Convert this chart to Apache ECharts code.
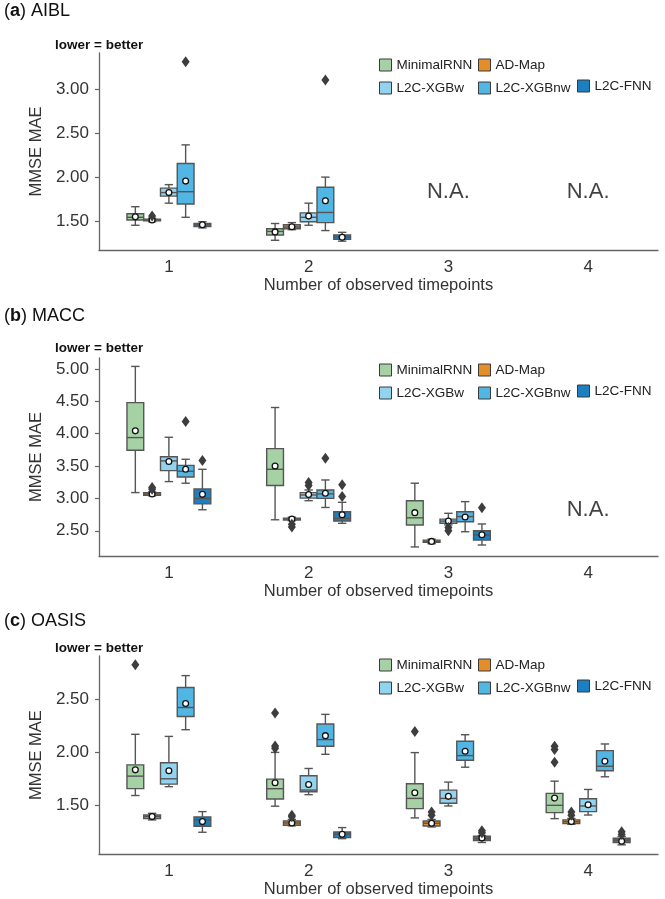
<!DOCTYPE html>
<html><head><meta charset="utf-8">
<script src="https://cdn.jsdelivr.net/npm/echarts@6/dist/echarts.min.js"></script>
<style>html,body{margin:0;padding:0;background:#fff}#c{width:665px;height:899px}</style>
</head><body><div id="c"></div>
<script>
// ---------- data ----------
const categories = ['1', '2', '3', '4'];
const methods = ['MinimalRNN', 'AD-Map', 'L2C-XGBw', 'L2C-XGBnw', 'L2C-FNN'];
// each stat: [min whisker, Q1, median, Q3, max whisker, mean]; null = not available
const aiblMinimalRNN = [[1.46,1.52,1.55,1.59,1.67,1.555],[1.29,1.35,1.39,1.42,1.48,1.385],null,null];
const aiblADMap      = [[1.50,1.51,1.52,1.53,1.54,1.52],[1.41,1.42,1.44,1.465,1.49,1.443],null,null];
const aiblXGBw       = [[1.71,1.79,1.83,1.88,1.92,1.83],[1.46,1.50,1.55,1.60,1.71,1.564],null,null];
const aiblXGBnw      = [[1.55,1.70,1.84,2.16,2.37,1.96],[1.40,1.49,1.605,1.89,2.005,1.737],null,null];
const aiblFNN        = [[1.43,1.445,1.465,1.48,1.50,1.465],[1.28,1.30,1.325,1.35,1.38,1.325],null,null];
// outliers: [category index, method index, value]
const aiblOutliers = [[0,1,1.565],[0,3,3.31],[1,3,3.105]];
const aiblNA = [[2,1.84],[3,1.84]];
const aiblTicks = [1.5,2.0,2.5,3.0];

const maccMinimalRNN = [[3.09,3.745,3.94,4.48,5.04,4.044],[2.67,3.20,3.45,3.77,4.405,3.50],[2.25,2.59,2.70,2.965,3.235,2.78],null];
const maccADMap      = [[3.04,3.05,3.07,3.09,3.10,3.07],[2.655,2.665,2.68,2.695,2.71,2.68],[2.30,2.32,2.335,2.355,2.37,2.336],null];
const maccXGBw       = [[3.26,3.43,3.58,3.645,3.945,3.57],[2.965,3.005,3.053,3.09,3.13,3.06],[2.59,2.615,2.65,2.68,2.77,2.65],null];
const maccXGBnw      = [[3.235,3.33,3.42,3.51,3.605,3.45],[2.86,3.00,3.07,3.13,3.285,3.08],[2.485,2.64,2.72,2.795,2.95,2.712],null];
const maccFNN        = [[2.825,2.915,3.00,3.145,3.45,3.063],[2.615,2.65,2.69,2.795,2.94,2.748],[2.28,2.355,2.435,2.50,2.605,2.438],null];
const maccOutliers = [[0,1,3.14],[0,1,3.17],[0,3,4.19],[0,4,3.585],[1,1,2.60],[1,1,2.56],[1,2,3.20],[1,2,3.245],[1,3,3.62],[1,4,3.21],[1,4,3.03],[2,2,2.55],[2,2,2.50],[2,4,2.855]];
const maccNA = [[3,2.82]];
const maccTicks = [2.5,3.0,3.5,4.0,4.5,5.0];

const oasisMinimalRNN = [[1.595,1.66,1.777,1.883,2.17,1.836],[1.495,1.562,1.659,1.749,2.00,1.715],[1.385,1.472,1.568,1.705,1.998,1.621],[1.378,1.434,1.503,1.615,1.73,1.571]];
const oasisADMap      = [[1.366,1.378,1.397,1.412,1.428,1.397],[1.31,1.316,1.337,1.356,1.37,1.337],[1.30,1.309,1.335,1.356,1.37,1.335],[1.325,1.332,1.35,1.366,1.38,1.35]];
const oasisXGBw       = [[1.678,1.702,1.752,1.902,2.15,1.827],[1.603,1.631,1.646,1.78,1.849,1.699],[1.497,1.522,1.568,1.646,1.721,1.587],[1.412,1.444,1.497,1.565,1.652,1.509]];
const oasisXGBnw      = [[2.213,2.337,2.421,2.609,2.721,2.459],[1.982,2.057,2.12,2.266,2.357,2.157],[1.861,1.926,1.97,2.104,2.166,2.01],[1.771,1.827,1.87,2.017,2.079,1.917]];
const oasisFNN        = [[1.25,1.307,1.366,1.394,1.444,1.35],[1.19,1.20,1.232,1.253,1.294,1.232],[1.154,1.173,1.192,1.213,1.22,1.197],[1.132,1.154,1.176,1.194,1.21,1.166]];
const oasisOutliers = [[0,0,2.823],[1,0,2.369],[1,0,2.06],[1,0,2.04],[2,0,2.197],[3,0,2.057],[3,0,2.026],[3,0,1.908],[1,1,1.41],[1,1,1.395],[2,1,1.44],[2,1,1.41],[3,1,1.44],[3,1,1.41],[2,4,1.265],[2,4,1.245],[3,4,1.255],[3,4,1.23]];
const oasisNA = [];
const oasisTicks = [1.5,2.0,2.5];

// ---------- style / layout ----------
const colors = ['#a5d1a5', '#e48e2a', '#92d3f0', '#52b6e4', '#1c7fc2'];
const EDGE = '#555555';
const OUT = '#3d3d3d';
const OFFSET = 0.12;   // fraction of band between neighbouring boxes
const BOXW = 0.12;     // box width as fraction of band
const FONT = 'Liberation Sans, Arial, sans-serif';

const panels = [
  {letter:'a', name:'AIBL', boxes:[aiblMinimalRNN,aiblADMap,aiblXGBw,aiblXGBnw,aiblFNN], outliers:aiblOutliers, na:aiblNA, ticks:aiblTicks,
   yMin:1.18, yMax:3.41, top:53, height:197, titleTop:2, noteTop:38, legTop:58},
  {letter:'b', name:'MACC', boxes:[maccMinimalRNN,maccADMap,maccXGBw,maccXGBnw,maccFNN], outliers:maccOutliers, na:maccNA, ticks:maccTicks,
   yMin:2.11, yMax:5.17, top:358, height:198, titleTop:307, noteTop:341, legTop:363},
  {letter:'c', name:'OASIS', boxes:[oasisMinimalRNN,oasisADMap,oasisXGBw,oasisXGBnw,oasisFNN], outliers:oasisOutliers, na:oasisNA, ticks:oasisTicks,
   yMin:1.045, yMax:2.905, top:656, height:199, titleTop:612, noteTop:641, legTop:658}
];

function boxRender(mi, color) {
  return function (params, api) {
    const cat = api.value(0);
    const band = api.size([1, 0])[0];
    const cx = api.coord([cat, api.value(3)])[0] + (mi - 2) * OFFSET * band;
    const w = BOXW * band;
    const cap = w * 0.5;
    const y = (d) => api.coord([cat, api.value(d)])[1];
    const yMin = y(1), yQ1 = y(2), yMed = y(3), yQ3 = y(4), yMax = y(5), yMean = y(6);
    const ls = {stroke: EDGE, lineWidth: 1.4};
    return {type: 'group', children: [
      {type:'line', shape:{x1:cx, y1:yQ3, x2:cx, y2:yMax}, style:ls},
      {type:'line', shape:{x1:cx, y1:yQ1, x2:cx, y2:yMin}, style:ls},
      {type:'line', shape:{x1:cx-cap/2, y1:yMax, x2:cx+cap/2, y2:yMax}, style:ls},
      {type:'line', shape:{x1:cx-cap/2, y1:yMin, x2:cx+cap/2, y2:yMin}, style:ls},
      {type:'rect', shape:{x:cx-w/2, y:yQ3, width:w, height:Math.max(yQ1-yQ3, 1)}, style:{fill:color, stroke:EDGE, lineWidth:1.4}},
      {type:'line', shape:{x1:cx-w/2, y1:yMed, x2:cx+w/2, y2:yMed}, style:ls},
      {type:'circle', shape:{cx:cx, cy:yMean, r:2.9}, style:{fill:'#ffffff', stroke:'#111111', lineWidth:1.3}}
    ]};
  };
}
function outlierRender(params, api) {
  const cat = api.value(0), mi = api.value(1), v = api.value(2);
  const band = api.size([1, 0])[0];
  const p = api.coord([cat, v]);
  const cx = p[0] + (mi - 2) * OFFSET * band, cy = p[1];
  return {type:'polygon', shape:{points:[[cx, cy-5.5],[cx+4, cy],[cx, cy+5.5],[cx-4, cy]]}, style:{fill:OUT}};
}

const option = {
  animation: false,
  backgroundColor: '#ffffff',
  title: [], legend: [], grid: [], xAxis: [], yAxis: [], series: []
};

panels.forEach((p, pi) => {
  option.title.push({
    text: '{n|(}{b|' + p.letter + '}{n|) ' + p.name + '}', left: 4, top: p.titleTop, padding: 0,
    textStyle: {fontWeight: 'normal', fontFamily: FONT, fontSize: 18,
      rich: {n: {fontFamily: FONT, fontSize: 18, fontWeight: 'normal', color: '#111'},
             b: {fontFamily: FONT, fontSize: 18, fontWeight: 'bold', color: '#111'}}}
  });
  option.title.push({
    text: 'lower = better', left: 55, top: p.noteTop, padding: 0,
    textStyle: {fontFamily: FONT, fontSize: 13.5, fontWeight: 'bold', color: '#111'}
  });
  const legBase = {orient: 'vertical', itemGap: 9, itemWidth: 12, itemHeight: 12, padding: 0, icon: 'rect', selectedMode: false,
    itemStyle: {borderColor: '#3a3a3a', borderWidth: 1},
    textStyle: {fontFamily: FONT, fontSize: 13.5, color: '#222'}};
  option.legend.push(Object.assign({}, legBase, {left: 379, top: p.legTop, data: [methods[0], methods[2]]}));
  option.legend.push(Object.assign({}, legBase, {left: 478, top: p.legTop, data: [methods[1], methods[3]]}));
  option.legend.push(Object.assign({}, legBase, {left: 577, top: p.legTop + 21, data: [methods[4]]}));

  option.grid.push({left: 99, right: 7, top: p.top, height: p.height, containLabel: false});
  option.xAxis.push({
    type: 'category', gridIndex: pi, data: categories, boundaryGap: true,
    name: 'Number of observed timepoints', nameLocation: 'middle', nameGap: 26,
    nameTextStyle: {fontFamily: FONT, fontSize: 16.5, color: '#333'},
    axisLine: {lineStyle: {color: '#666', width: 1.3}},
    axisTick: {alignWithLabel: true, length: 5, lineStyle: {color: '#666', width: 1.2}},
    axisLabel: {fontFamily: FONT, fontSize: 17, color: '#333', margin: 9},
    splitLine: {show: false}
  });
  option.yAxis.push({
    type: 'value', gridIndex: pi, min: p.yMin, max: p.yMax,
    name: 'MMSE MAE', nameLocation: 'middle', nameGap: 53, nameRotate: 90,
    nameTextStyle: {fontFamily: FONT, fontSize: 16.5, color: '#333'},
    axisLine: {show: true, lineStyle: {color: '#666', width: 1.3}},
    axisTick: {show: true, length: 4, customValues: p.ticks, lineStyle: {color: '#666', width: 1.2}},
    axisLabel: {fontFamily: FONT, fontSize: 17, color: '#333', margin: 10, customValues: p.ticks,
      formatter: (v) => Number(v).toFixed(2)},
    splitLine: {show: false}
  });
  p.boxes.forEach((arr, mi) => {
    const data = [];
    arr.forEach((s, ci) => { if (s) data.push([ci].concat(s)); });
    option.series.push({
      type: 'custom', name: methods[mi], xAxisIndex: pi, yAxisIndex: pi,
      itemStyle: {color: colors[mi]},
      renderItem: boxRender(mi, colors[mi]),
      encode: {x: 0, y: [1, 2, 3, 4, 5, 6]},
      data: data, z: 2, silent: true
    });
  });
  option.series.push({
    type: 'custom', name: p.name + ' outliers', xAxisIndex: pi, yAxisIndex: pi,
    renderItem: outlierRender, encode: {x: 0, y: 2}, data: p.outliers, z: 3, silent: true
  });
  if (p.na.length) {
    option.series.push({
      type: 'scatter', name: p.name + ' NA', xAxisIndex: pi, yAxisIndex: pi, symbolSize: 1,
      itemStyle: {color: 'rgba(0,0,0,0)'}, silent: true,
      label: {show: true, position: 'inside', formatter: 'N.A.', fontFamily: FONT, fontSize: 22, color: '#111'},
      data: p.na
    });
  }
});

const chart = echarts.init(document.getElementById('c'), null, {renderer: 'canvas'});
chart.setOption(option);
</script></body></html>
